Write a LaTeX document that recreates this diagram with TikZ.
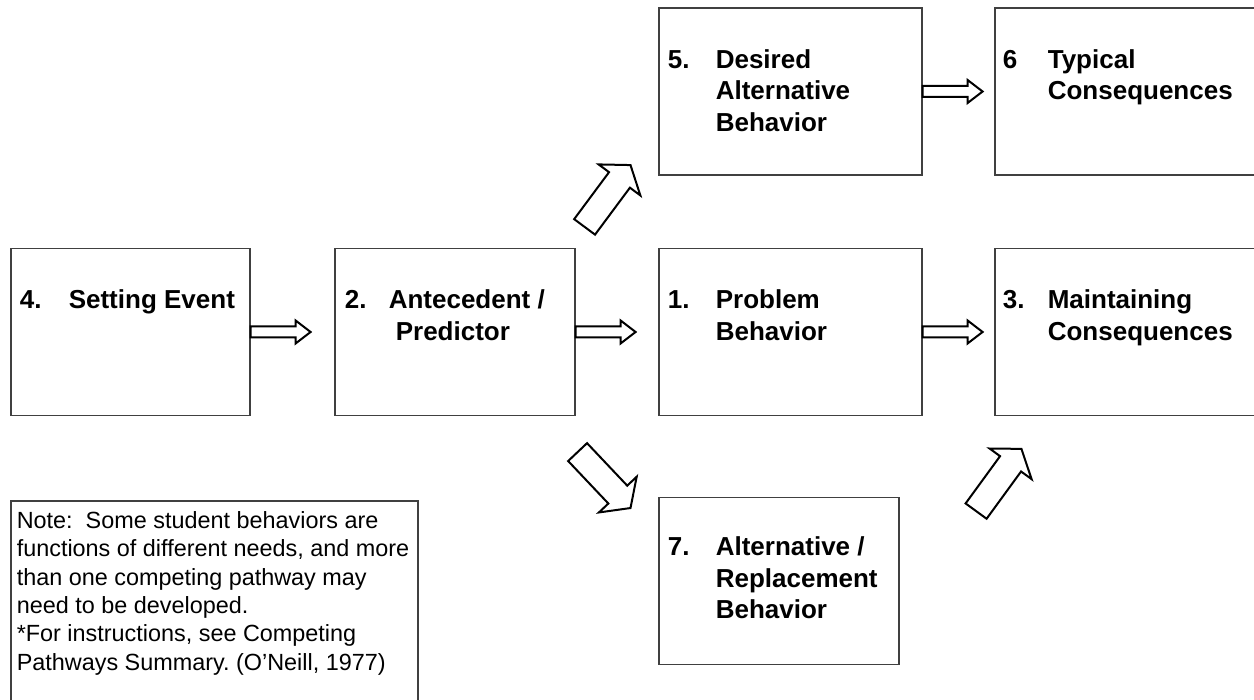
\documentclass[tikz,border=0pt]{standalone}
\usepackage{fontspec}
\setmainfont{Liberation Sans}
\usepackage{array}
\frenchspacing

\begin{document}
\begin{tikzpicture}[x=0.5pt, y=0.5pt,
    box/.style={draw=black!75, line width=0.6pt, minimum height=83.5pt, inner sep=0pt},
    lbl/.style={inner sep=0pt, anchor=base west, font=\fontsize{13pt}{15.75pt}\selectfont\bfseries},
    hblock/.pic={\draw[line width=1pt] (0,5.5) -- (45,5.5) -- (45,11.5) -- (60,0) -- (45,-11.5) -- (45,-5.5) -- (0,-5.5) -- cycle;},
    dblock/.pic={\draw[line width=1pt] (0,13) -- (58.5,13) -- (58.5,26) -- (77,0) -- (58.5,-26) -- (58.5,-13) -- (0,-13) -- cycle;}]

    \clip (0,0) rectangle (1254,700);

    % boxes
    \node[box, minimum width=119.5pt] (setting) at (130.5,368) {};
    \node[box, minimum width=120pt] (antecedent) at (455,368) {};
    \node[box, minimum width=131.5pt] (problem) at (790.5,368) {};
    \node[box, minimum width=131.5pt] (maintaining) at (1126.5,368) {};
    \node[box, minimum width=131.5pt] (desired) at (790.5,608.5) {};
    \node[box, minimum width=131.5pt] (typical) at (1126.5,608.5) {};
    \node[box, minimum width=120pt] (replacement) at (779,119) {};
    \node[box, minimum width=203.5pt, minimum height=104.5pt] (note) at (214.5,94.5) {};

    \node[lbl] (setting-txt) at ([shift={(9,-61)}]setting.north west)
        {\begin{tabular}[t]{@{}p{24.5pt}@{}l@{}}4. & Setting Event\end{tabular}};
    \node[lbl] (antecedent-txt) at ([shift={(10,-61)}]antecedent.north west)
        {\begin{tabular}[t]{@{}p{22pt}@{}l@{}}2. & Antecedent /\\ & \hspace{3.5pt}Predictor\end{tabular}};
    \node[lbl] (problem-txt) at ([shift={(9,-61)}]problem.north west)
        {\begin{tabular}[t]{@{}p{24pt}@{}l@{}}1. & Problem\\ & Behavior\end{tabular}};
    \node[lbl] (maintaining-txt) at ([shift={(8,-61)}]maintaining.north west)
        {\begin{tabular}[t]{@{}p{22.5pt}@{}l@{}}3. & Maintaining\\ & Consequences\end{tabular}};
    \node[lbl] (desired-txt) at ([shift={(9,-61)}]desired.north west)
        {\begin{tabular}[t]{@{}p{24pt}@{}l@{}}5. & Desired\\ & Alternative\\ & Behavior\end{tabular}};
    \node[lbl] (typical-txt) at ([shift={(8,-61)}]typical.north west)
        {\begin{tabular}[t]{@{}p{22.5pt}@{}l@{}}6 & Typical\\ & Consequences\end{tabular}};
    \node[lbl] (replacement-txt) at ([shift={(9,-59)}]replacement.north west)
        {\begin{tabular}[t]{@{}p{24pt}@{}l@{}}7. & Alternative /\\ & Replacement\\ & Behavior\end{tabular}};

    \node[inner sep=0pt, anchor=base west, font=\fontsize{11.7pt}{14.2pt}\selectfont] (note-txt)
        at ([shift={(6,-28)}]note.north west)
        {\begin{tabular}[t]{@{}l@{}}Note:\ \ Some student behaviors are\\
        functions of different needs, and more\\
        than one competing pathway may\\
        need to be developed.\\
        {}*For instructions, see Competing\\
        Pathways Summary. (O’Neill, 1977)\end{tabular}};

    % block arrows
    \pic at (setting.east) {hblock};
    \pic at (antecedent.east) {hblock};
    \pic at (problem.east) {hblock};
    \pic at (desired.east) {hblock};
    \pic[rotate=53.4] at ([shift={(9,21)}]antecedent.north east) {dblock};
    \pic[rotate=-46.6] at ([shift={(2,-36)}]antecedent.south east) {dblock};
    \pic[rotate=53.9] at ([shift={(-18.3,-95)}]maintaining.south west) {dblock};
\end{tikzpicture}
\end{document}
